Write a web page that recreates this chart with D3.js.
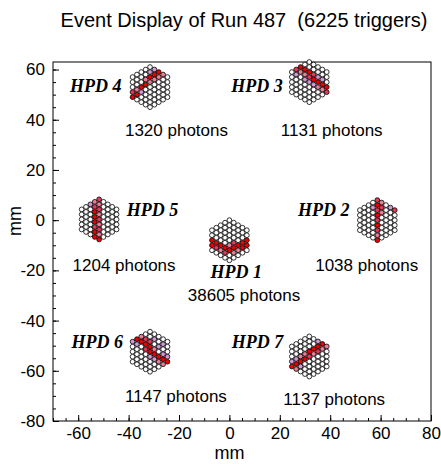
<!DOCTYPE html>
<html>
<head>
<meta charset="utf-8">
<script src="https://d3js.org/d3.v7.min.js"></script>
<style>
  body { margin: 0; background: #fff; }
  svg text { font-family: "Liberation Sans", Arial, sans-serif; }
</style>
</head>
<body>
<div id="chart"></div>
<script>
// Chart data: HPD centres (mm), photon counts and pixel hit levels
var hpdNames = ["HPD 1", "HPD 2", "HPD 3", "HPD 4", "HPD 5", "HPD 6", "HPD 7"];
var hpdCenterX = [0, 58.7, 31.7, -31.5, -51.7, -31.5, 31.7];
var hpdCenterY = [-8, 0, 55, 53, 0.3, -52.4, -54.3];
var photonCounts = [38605, 1038, 1131, 1320, 1204, 1147, 1137];

// hit level per pixel, one string per column (left to right), top to bottom
// 0 = no hit, 1 = few ... 4 = many
var hpdHits = [
  ["00440", "000430", "0000420", "00000430", "000002400", "00003420", "0000420", "000440", "00440"],
  ["00000", "000000", "0000000", "01000000", "343434324", "23200000", "0000000", "100000", "30000"],
  ["00000", "310000", "4200000", "04210000", "004310000", "00341000", "0014200", "001420", "00043"],
  ["00034", "000240", "0004100", "00240000", "014200000", "14200000", "4200000", "200000", "00000"],
  ["00000", "000000", "1000000", "23444344", "323232324", "00000000", "0000000", "000000", "00000"],
  ["10000", "410000", "2400000", "03430000", "003441000", "01024100", "0010420", "010142", "00014"],
  ["00014", "000142", "0002410", "00024000", "000430000", "00420000", "1430000", "420000", "20000"]
];

// tick labels
var xTicks = [-60, -40, -20, 0, 20, 40, 60, 80];
var yTicks = [-80, -60, -40, -20, 0, 20, 40, 60];

// label layout (mm)
var nameX = [2.7, 37.4, 11.0, -53, -30.5, -52.4, 11.2];
var nameY = [-20.7, 3.9, 53.3, 53.3, 3.9, -48.6, -48.6];
var countX = [5.8, 54.5, 40.6, -21, -41.8, -21.2, 41.6];
var countY = [-29.9, -17.9, 35.7, 35.7, -17.9, -70.1, -71.6];

var svgWidth = 441;
var svgHeight = 464;
var margin = { top: 62, right: 10, bottom: 43, left: 53 };
var pitch = 2.0; // pixel pitch in mm

var svg = d3.select("#chart")
  .append("svg")
  .attr("width", svgWidth)
  .attr("height", svgHeight);

var x = d3.scaleLinear()
  .domain([-70, 80])
  .range([margin.left, svgWidth - margin.right]);

var y = d3.scaleLinear()
  .domain([-80, 63])
  .range([svgHeight - margin.bottom, margin.top]);

var levelColor = ["#ffffff", "#d29ad4", "#ec7f97", "#e23a58", "#f00000"];

// frame
svg.append("rect")
  .attr("x", x(-70))
  .attr("y", y(63))
  .attr("width", x(80) - x(-70))
  .attr("height", y(-80) - y(63))
  .attr("fill", "none")
  .attr("stroke", "#000")
  .attr("stroke-width", 1);

// axes, ticks pointing inside the frame
var minorX = d3.range(-70, 81, 5);
var minorY = d3.range(-80, 63, 5);

svg.append("g")
  .attr("transform", `translate(0, ${y(-80)})`)
  .call(d3.axisBottom(x).tickValues(minorX).tickSizeInner(-3).tickSizeOuter(0).tickFormat(""))
  .call(g => g.select(".domain").remove());

svg.append("g")
  .attr("transform", `translate(0, ${y(-80)})`)
  .call(d3.axisBottom(x).tickValues(xTicks).tickSizeInner(-6).tickSizeOuter(0).tickPadding(6)
    .tickFormat(d => String(d)))
  .call(g => g.select(".domain").remove())
  .selectAll("text")
  .style("font-size", "17px")
  .attr("fill", "#000");

svg.append("g")
  .attr("transform", `translate(${x(-70)}, 0)`)
  .call(d3.axisLeft(y).tickValues(minorY).tickSizeInner(-3).tickSizeOuter(0).tickFormat(""))
  .call(g => g.select(".domain").remove());

svg.append("g")
  .attr("transform", `translate(${x(-70)}, 0)`)
  .call(d3.axisLeft(y).tickValues(yTicks).tickSizeInner(-6).tickSizeOuter(0).tickPadding(8)
    .tickFormat(d => String(d)))
  .call(g => g.select(".domain").remove())
  .selectAll("text")
  .style("font-size", "17px")
  .attr("fill", "#000");

// pixels
var cells = [];
hpdHits.forEach(function (cols, h) {
  cols.forEach(function (col, ci) {
    var c = ci - 4;
    var n = col.length;
    for (var k = 0; k < n; k++) {
      cells.push({
        mx: hpdCenterX[h] + c * pitch * Math.sqrt(3) / 2,
        my: hpdCenterY[h] + ((n - 1) / 2 - k) * pitch,
        level: +col[k]
      });
    }
  });
});

var rPx = (x(pitch) - x(0)) * 0.47;

svg.append("g")
  .selectAll("circle")
  .data(cells)
  .enter()
  .append("circle")
  .attr("cx", d => x(d.mx))
  .attr("cy", d => y(d.my))
  .attr("r", rPx)
  .attr("fill", d => levelColor[d.level])
  .attr("stroke", "#000")
  .attr("stroke-width", 0.8);

// HPD names
svg.append("g")
  .selectAll("text")
  .data(hpdNames)
  .enter()
  .append("text")
  .attr("x", (d, i) => x(nameX[i]))
  .attr("y", (d, i) => y(nameY[i]))
  .attr("text-anchor", "middle")
  .attr("dominant-baseline", "central")
  .style("font-family", "'Liberation Serif', 'Times New Roman', serif")
  .style("font-weight", "bold")
  .style("font-style", "italic")
  .style("font-size", "18px")
  .text(d => d);

// photon counts
svg.append("g")
  .selectAll("text")
  .data(photonCounts)
  .enter()
  .append("text")
  .attr("x", (d, i) => x(countX[i]))
  .attr("y", (d, i) => y(countY[i]))
  .attr("text-anchor", "middle")
  .attr("dominant-baseline", "central")
  .style("font-size", "17px")
  .text(d => d + " photons");

// title and axis titles
svg.append("text")
  .attr("x", 244)
  .attr("y", 27)
  .attr("text-anchor", "middle")
  .style("font-size", "20px")
  .style("white-space", "pre")
  .text("Event Display of Run 487  (6225 triggers)");

svg.append("text")
  .attr("x", x(0))
  .attr("y", 459)
  .attr("text-anchor", "middle")
  .style("font-size", "18px")
  .text("mm");

svg.append("text")
  .attr("transform", `translate(21, 221) rotate(-90)`)
  .attr("text-anchor", "middle")
  .style("font-size", "18px")
  .text("mm");
</script>
</body>
</html>
